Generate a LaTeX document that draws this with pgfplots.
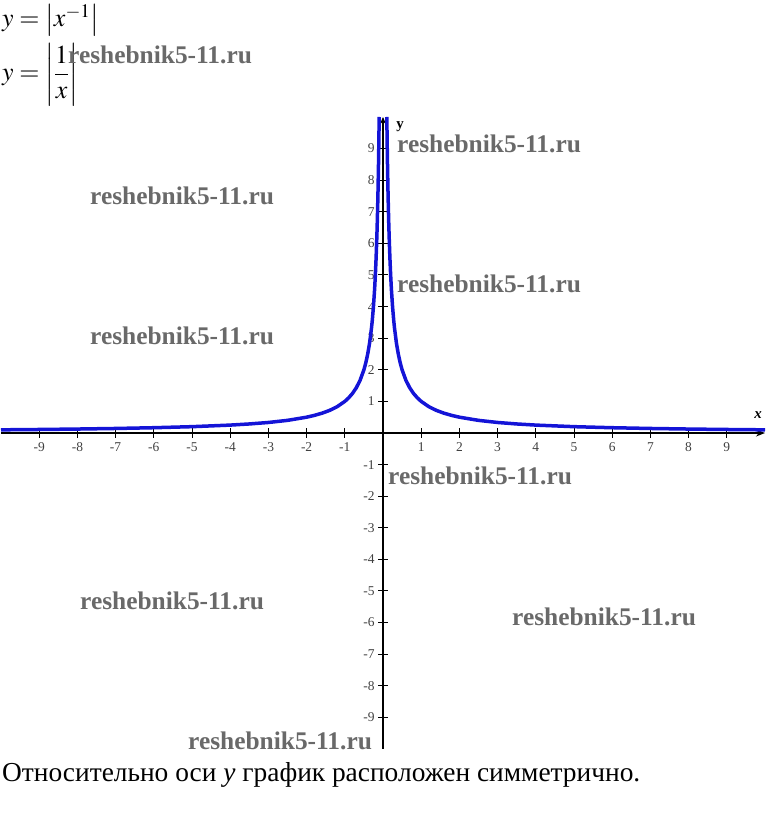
\documentclass[border=0pt]{standalone}
\usepackage{mathptmx}
\usepackage{fontspec}
\setmainfont{Liberation Serif}
\usepackage{pgfplots}
\pgfplotsset{compat=1.18}
\usetikzlibrary{arrows.meta}
\definecolor{curve}{RGB}{20,20,215}
\definecolor{wm}{RGB}{105,105,105}
\newcommand{\wmk}{{\fontsize{25.5}{25.5}\selectfont\bfseries reshebnik5-11.ru}}
\begin{document}
\begin{tikzpicture}
\useasboundingbox (0bp,0bp) rectangle (768bp,828bp);
\begin{axis}[
  at={(383bp,395bp)}, anchor=origin,
  x=38.2bp, y=31.6bp,
  xmin=-10, xmax=10, ymin=-10, ymax=10,
  axis lines=middle,
  axis line style={line width=1.6bp, black},
  x axis line style={-{Stealth[length=9bp,width=7bp]}},
  y axis line style={-{Stealth[length=7bp,width=6bp]}},
  xtick={-9,-8,-7,-6,-5,-4,-3,-2,-1,1,2,3,4,5,6,7,8,9},
  xticklabels={-9,-8,-7,-6,-5,-4,-3,-2,-1,1,2,3,4,5,6,7,8,9},
  ytick={-9,-8,-7,-6,-5,-4,-3,-2,-1,1,2,3,4,5,6,7,8,9},
  yticklabels={-9,-8,-7,-6,-5,-4,-3,-2,-1,1,2,3,4,5,6,7,8,9},
  tick align=center,
  major tick length=10bp,
  tick style={line width=1bp, black},
  ticklabel style={font=\fontsize{13.5}{13.5}\selectfont, text=black!75},
  xticklabel style={yshift=-1bp},
  clip=false,
]
\addplot[curve, line width=3.5bp, line join=round] coordinates {
(0.1,10) (0.11,9.091) (0.12,8.333) (0.13,7.692) (0.14,7.143) (0.15,6.667)
(0.16,6.25) (0.18,5.556) (0.2,5) (0.22,4.545) (0.25,4) (0.28,3.571)
(0.3,3.333) (0.35,2.857) (0.4,2.5) (0.45,2.222) (0.5,2) (0.6,1.667)
(0.7,1.429) (0.8,1.25) (0.9,1.111) (1,1) (1.2,0.833) (1.4,0.714)
(1.6,0.625) (1.8,0.556) (2,0.5) (2.5,0.4) (3,0.333) (3.5,0.286)
(4,0.25) (5,0.2) (6,0.167) (7,0.143) (8,0.125) (9,0.111) (10,0.1)
};
\addplot[curve, line width=3.5bp, line join=round] coordinates {
(-0.1,10) (-0.11,9.091) (-0.12,8.333) (-0.13,7.692) (-0.14,7.143) (-0.15,6.667)
(-0.16,6.25) (-0.18,5.556) (-0.2,5) (-0.22,4.545) (-0.25,4) (-0.28,3.571)
(-0.3,3.333) (-0.35,2.857) (-0.4,2.5) (-0.45,2.222) (-0.5,2) (-0.6,1.667)
(-0.7,1.429) (-0.8,1.25) (-0.9,1.111) (-1,1) (-1.2,0.833) (-1.4,0.714)
(-1.6,0.625) (-1.8,0.556) (-2,0.5) (-2.5,0.4) (-3,0.333) (-3.5,0.286)
(-4,0.25) (-5,0.2) (-6,0.167) (-7,0.143) (-8,0.125) (-9,0.111) (-10,0.1)
};
\node[font=\fontsize{15}{15}\selectfont\bfseries\itshape] at (axis cs:9.82,0.57) {x};
\node[font=\fontsize{15}{15}\selectfont\bfseries] at (axis cs:0.45,9.68) {y};
\end{axis}
\node[anchor=base west, inner sep=0pt] at (2bp,801bp) {\fontsize{26}{30}\selectfont $y=\left|x^{-1}\right|$};
\node[anchor=base west, inner sep=0pt] at (2bp,747bp) {\fontsize{26}{30}\selectfont $y=\left|\displaystyle\frac{1}{x}\right|$};
\node[anchor=base west, inner sep=0pt] at (2bp,46bp) {\fontsize{27.5}{30}\selectfont Относительно оси \textit{y} график расположен симметрично.};
\begin{scope}[every node/.style={anchor=base west, inner sep=0pt, text=wm}]
\node at (68bp,764bp) {\wmk};
\node at (397bp,675bp) {\wmk};
\node at (90bp,623bp) {\wmk};
\node at (397bp,535bp) {\wmk};
\node at (90bp,483bp) {\wmk};
\node at (388bp,343bp) {\wmk};
\node at (80bp,218bp) {\wmk};
\node at (512bp,202bp) {\wmk};
\node at (188bp,78bp) {\wmk};
\end{scope}
\end{tikzpicture}
\end{document}
